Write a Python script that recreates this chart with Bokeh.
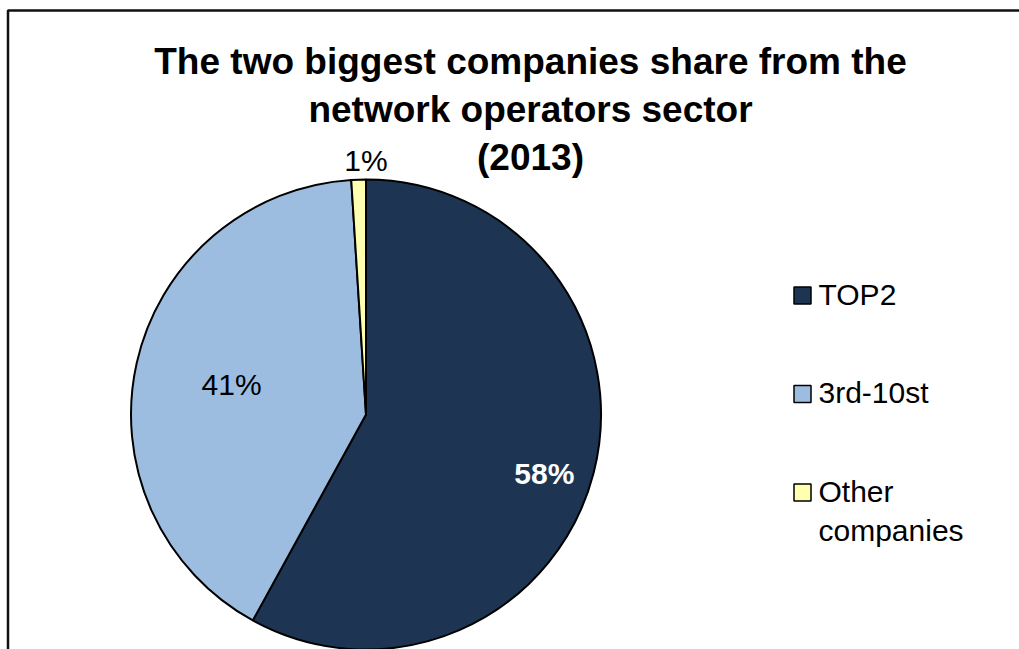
import math
from bokeh.plotting import figure
from bokeh.models import Range1d, ColumnDataSource
from bokeh.core.properties import value
from bokeh.embed import file_html
from bokeh.resources import INLINE

# ---- data ----
categories = ["TOP2", "3rd-10st", "Other companies"]
shares = [58, 41, 1]
share_labels = ["58%", "41%", "1%"]
legend_labels = ["TOP2", "3rd-10st", "Other\ncompanies"]
title_lines = ["The two biggest companies share from the",
               "network operators sector",
               "(2013)"]

# ---- styles ----
colors = ["#1D3552", "#9DBDE0", "#FFFFB0"]
label_colors = ["white", "black", "black"]
label_styles = ["bold", "normal", "normal"]
label_radius_frac = [0.80, 0.586, 1.08]
label_angle_nudge_deg = [-4.0, 0.0, -1.8]

W, H = 1019, 649
FONT = "Liberation Sans"

p = figure(width=W, height=H, output_backend="svg", toolbar_location=None,
           x_range=Range1d(0, W), y_range=Range1d(0, H),
           min_border=0, outline_line_color=None)
p.axis.visible = False
p.grid.visible = False
p.background_fill_color = "white"
p.border_fill_color = "white"

# frame (only left and top edges visible in reference)
p.line(x=[7.5, 7.5, W], y=[0, H - 10, H - 10], line_color="#111111", line_width=2.5)

cx, cy, R = 365.5, H - 414, 235

total = sum(shares)
starts, ends, mids = [], [], []
acc = 0.0
for s in shares:
    a0 = math.pi / 2 - 2 * math.pi * acc / total
    acc += s
    a1 = math.pi / 2 - 2 * math.pi * acc / total
    starts.append(a0)
    ends.append(a1)
    mids.append((a0 + a1) / 2)

src = ColumnDataSource(dict(start=starts, end=ends, color=colors, cat=categories))
p.wedge(x=cx, y=cy, radius=R, start_angle="start", end_angle="end",
        direction="clock", fill_color="color", line_color="black",
        line_width=2, source=src)

angs = [m + math.radians(d) for m, d in zip(mids, label_angle_nudge_deg)]
lx = [cx + f * R * math.cos(a) for f, a in zip(label_radius_frac, angs)]
ly = [cy + f * R * math.sin(a) for f, a in zip(label_radius_frac, angs)]
lsrc = ColumnDataSource(dict(x=lx, y=ly, t=share_labels, c=label_colors, st=label_styles))
p.text(x="x", y="y", text="t", text_color="c", text_font_style="st",
       text_font=value(FONT), text_font_size="30px",
       text_align="center", text_baseline="middle", source=lsrc)

# title
tx = [530] * len(title_lines)
ty = [H - (61 + 48 * i) for i in range(len(title_lines))]
p.text(x=tx, y=ty, text=title_lines, text_font=value(FONT),
       text_font_style="bold", text_font_size="37px", text_color="black",
       text_align="center", text_baseline="alphabetic")

# legend
leg_y = [H - (295 + 98.5 * i) for i in range(len(categories))]
p.rect(x=[802] * len(categories), y=leg_y, width=17, height=17,
       fill_color=colors, line_color="black", line_width=1.5)
p.text(x=[818] * len(categories), y=leg_y, text=legend_labels,
       text_font=value(FONT), text_font_size="30px", text_color="black",
       text_align="left", text_baseline="top", text_line_height=1.2,
       y_offset=-18)

open("out.html", "w").write(file_html(p, INLINE))
